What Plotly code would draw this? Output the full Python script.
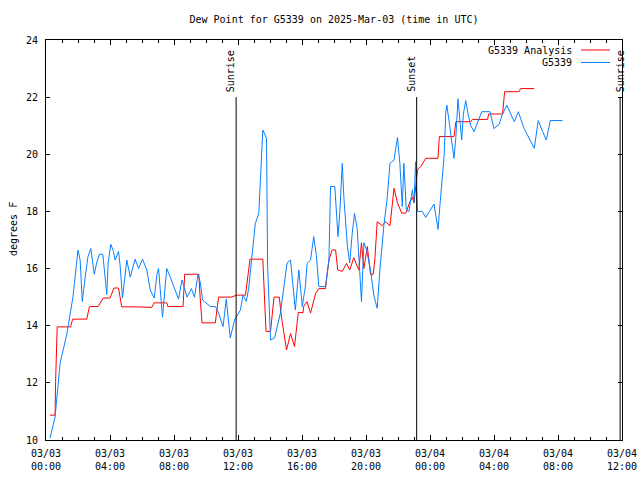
import plotly.graph_objects as go

# ---------------- data ----------------
obs_times = [
    "03 00:15", "03 00:34", "03 00:53", "03 01:18", "03 01:41", "03 01:55", "03 02:00", "03 02:08",
    "03 02:16", "03 02:27", "03 02:37", "03 02:48", "03 03:01", "03 03:10", "03 03:20", "03 03:33",
    "03 03:48", "03 03:53", "03 04:03", "03 04:13", "03 04:19", "03 04:32", "03 04:38", "03 04:47",
    "03 04:57", "03 05:03", "03 05:16", "03 05:34", "03 05:47", "03 06:02", "03 06:18", "03 06:31",
    "03 06:46", "03 06:56", "03 07:02", "03 07:11", "03 07:17", "03 07:27", "03 07:33", "03 07:46",
    "03 07:58", "03 08:17", "03 08:30", "03 08:49", "03 09:05", "03 09:17", "03 09:30", "03 09:39",
    "03 09:47", "03 10:16", "03 10:35", "03 10:47", "03 11:04", "03 11:16", "03 11:31", "03 11:47",
    "03 11:58", "03 12:09", "03 12:19", "03 12:31", "03 12:40", "03 12:53", "03 13:05", "03 13:18",
    "03 13:27", "03 13:33", "03 13:47", "03 13:51", "03 14:02", "03 14:17", "03 14:39", "03 14:54",
    "03 15:04", "03 15:17", "03 15:29", "03 15:35", "03 15:48", "03 15:54", "03 16:01", "03 16:13",
    "03 16:19", "03 16:32", "03 16:44", "03 16:54", "03 17:03", "03 17:28", "03 17:41", "03 17:47",
    "03 18:03", "03 18:15", "03 18:22", "03 18:31", "03 18:37", "03 18:50", "03 18:59", "03 19:08",
    "03 19:17", "03 19:27", "03 19:35", "03 19:43", "03 19:52", "03 20:02", "03 20:17", "03 20:30",
    "03 20:42", "03 20:52", "03 21:07", "03 21:20", "03 21:30", "03 21:45", "03 21:58", "03 22:07",
    "03 22:16", "03 22:22", "03 22:31", "03 22:41", "03 22:54", "03 23:00", "03 23:06", "03 23:13",
    "03 23:31", "03 23:44", "04 00:15", "04 00:25", "04 00:30", "04 00:38", "04 00:47", "04 00:53",
    "04 00:59", "04 01:03", "04 01:11", "04 01:18", "04 01:30", "04 01:37", "04 01:45", "04 01:53",
    "04 01:59", "04 02:05", "04 02:14", "04 02:23", "04 02:33", "04 02:45", "04 02:58", "04 03:14",
    "04 03:45", "04 04:00", "04 04:19", "04 04:32", "04 04:48", "04 05:16", "04 05:31", "04 05:53",
    "04 06:31", "04 06:46", "04 07:02", "04 07:16", "04 07:31", "04 08:17",
]
obs_values = [
    10.07, 10.8, 12.7, 13.7, 15.0, 16.3, 16.65, 16.3,
    14.85, 15.7, 16.4, 16.7, 15.8, 16.2, 16.5, 16.5,
    15.1, 16.2, 16.85, 16.6, 16.3, 16.6, 16.1, 14.97,
    15.95, 16.3, 15.7, 16.33, 16.0, 16.33, 15.95, 15.25,
    14.97, 15.8, 16.0, 15.0, 14.3, 15.4, 16.0, 15.7,
    15.4, 14.93, 15.6, 15.0, 15.3, 15.0, 15.8, 15.5,
    14.9, 14.67, 14.67, 14.45, 13.97, 14.93, 13.57, 14.2,
    14.37, 14.55, 15.07, 14.85, 15.3, 16.53, 17.58, 17.93,
    19.68, 20.85, 20.56, 16.13, 13.5, 13.57, 14.44, 15.5,
    16.2, 16.3, 15.0, 14.55, 15.95, 15.4, 14.67, 15.4,
    16.18, 16.3, 17.12, 16.45, 15.37, 15.37, 16.3, 18.87,
    18.87, 17.12, 18.0, 19.68, 18.5, 16.8, 16.2, 17.2,
    17.93, 17.4, 16.2, 14.84, 16.9, 16.66, 15.95, 15.03,
    14.61, 15.95, 17.5, 18.52, 19.68, 19.8, 20.59, 19.68,
    18.17, 19.68, 18.06, 18.0, 18.76, 18.3, 19.74, 18.0,
    18.0, 17.79, 18.26, 17.6, 17.37, 18.3, 19.5, 19.95,
    21.43, 21.72, 21.2, 20.7, 19.86, 20.6, 21.94, 21.1,
    20.5, 21.4, 21.88, 21.4, 21.0, 20.79, 21.1, 21.49,
    21.49, 20.9, 21.05, 21.4, 21.72, 21.14, 21.49, 20.9,
    20.21, 21.18, 20.8, 20.5, 21.18, 21.18,
]

ana_times = [
    "03 00:15", "03 00:34", "03 00:36", "03 00:38", "03 00:42", "03 01:32", "03 01:40", "03 02:33",
    "03 02:43", "03 03:15", "03 03:35", "03 04:00", "03 04:15", "03 04:32", "03 04:44", "03 05:41",
    "03 06:37", "03 06:45", "03 07:33", "03 07:37", "03 08:34", "03 08:40", "03 09:33", "03 09:38",
    "03 09:45", "03 10:35", "03 10:47", "03 11:34", "03 11:56", "03 12:28", "03 12:39", "03 12:45",
    "03 13:33", "03 13:37", "03 13:45", "03 14:02", "03 14:06", "03 14:15", "03 14:35", "03 14:43",
    "03 15:02", "03 15:17", "03 15:32", "03 15:42", "03 15:46", "03 16:04", "03 16:06", "03 16:19",
    "03 16:32", "03 16:51", "03 17:03", "03 17:28", "03 17:41", "03 17:53", "03 18:06", "03 18:14",
    "03 18:31", "03 18:47", "03 18:59", "03 19:14", "03 19:33", "03 19:43", "03 19:52", "03 20:05",
    "03 20:17", "03 20:27", "03 20:33", "03 20:42", "03 21:01", "03 21:13", "03 21:30", "03 21:45",
    "03 21:58", "03 22:14", "03 22:29", "03 22:45", "03 22:54", "03 23:00", "03 23:13", "03 23:25",
    "03 23:44", "04 00:30", "04 00:35", "04 01:30", "04 01:37", "04 02:33", "04 02:39", "04 03:36",
    "04 03:40", "04 04:32", "04 04:40", "04 05:34", "04 05:40", "04 06:31",
]
ana_values = [
    10.87, 10.87, 12.04, 12.8, 13.96, 13.96, 14.23, 14.23,
    14.67, 14.67, 14.97, 14.97, 15.32, 15.32, 14.66, 14.66,
    14.64, 14.8, 14.8, 14.67, 14.67, 15.8, 15.8, 15.0,
    14.1, 14.1, 15.0, 15.0, 15.07, 15.07, 15.8, 16.33,
    16.33, 15.6, 13.8, 13.8, 14.2, 15.0, 15.0, 14.3,
    13.15, 13.73, 13.27, 14.0, 14.46, 14.46, 14.67, 14.84,
    14.44, 15.13, 15.3, 15.3, 16.3, 16.65, 16.65, 15.95,
    15.9, 16.18, 15.95, 16.38, 15.95, 16.9, 16.0, 16.77,
    15.8, 15.8, 16.3, 17.64, 17.5, 17.64, 17.5, 18.81,
    18.3, 17.94, 17.94, 18.34, 18.5, 18.3, 19.45, 19.57,
    19.86, 19.86, 20.62, 20.62, 21.14, 21.14, 21.22, 21.22,
    21.41, 21.41, 22.19, 22.19, 22.3, 22.3,
]

event_times = ["03 11:53", "03 23:10", "04 11:53"]
event_labels = ["Sunrise", "Sunset", "Sunrise"]
event_top = 22

series_names = ["G5339 Analysis", "G5339"]
series_colors = ["#ff0000", "#0a80ff"]

title_text = "Dew Point for G5339 on 2025-Mar-03 (time in UTC)"
y_label = "degrees F"
x_start, x_end = "2025-03-03 00:00", "2025-03-04 12:00"
y_ticks = [10, 12, 14, 16, 18, 20, 22, 24]


def ts(s):
    return "2025-03-" + s


FONT = "DejaVu Sans Mono"

fig = go.Figure()
fig.add_trace(go.Scatter(x=[ts(t) for t in ana_times], y=ana_values, mode="lines",
                         line=dict(color=series_colors[0], width=1), name=series_names[0],
                         showlegend=False))
fig.add_trace(go.Scatter(x=[ts(t) for t in obs_times], y=obs_values, mode="lines",
                         line=dict(color=series_colors[1], width=1), name=series_names[1],
                         showlegend=False))

shapes = []
annotations = []
for t, lab, dx in zip(event_times, event_labels, [-6, -6, 0]):
    shapes.append(dict(type="line", xref="x", yref="y", x0=ts(t), x1=ts(t), y0=10, y1=event_top,
                       line=dict(color="black", width=1)))
    annotations.append(dict(x=ts(t), y=event_top, xref="x", yref="y", text=lab, textangle=-90,
                            showarrow=False, xanchor="center", yanchor="bottom", xshift=dx, yshift=3,
                            font=dict(family=FONT, size=10, color="black")))

# legend drawn at top-right (text right aligned, sample to the right)
for i, (nm, col) in enumerate(zip(series_names, series_colors)):
    yy = 1 - (10 + 12.5 * i) / 400
    annotations.append(dict(x=(574 - 46) / 576, y=yy, xref="paper", yref="paper", text=nm,
                            showarrow=False, xanchor="right", yanchor="middle",
                            font=dict(family=FONT, size=10, color="black")))
    shapes.append(dict(type="line", xref="paper", yref="paper", x0=(581 - 46) / 576,
                       x1=(610 - 46) / 576, y0=yy, y1=yy, line=dict(color=col, width=1)))

annotations.append(dict(x=-33 / 576, y=(440 - 229) / 400, xref="paper", yref="paper", text=y_label,
                        textangle=-90, showarrow=False, xanchor="center", yanchor="middle",
                        font=dict(family=FONT, size=10, color="black")))

fig.update_layout(
    width=640, height=480,
    margin=dict(l=46, r=18, t=40, b=40, autoexpand=False),
    paper_bgcolor="white", plot_bgcolor="white",
    title=dict(text=title_text, x=0.5, xref="paper", xanchor="center", y=1 - 19 / 480, yanchor="middle",
               font=dict(family=FONT, size=10, color="black")),
    font=dict(family=FONT, size=10, color="black"),
    shapes=shapes, annotations=annotations,
    showlegend=False,
)
fig.update_xaxes(
    range=[x_start, x_end], type="date", automargin=False,
    tick0=x_start, dtick=4 * 3600000, tickformat="%m/%d<br>%H:%M",
    ticks="inside", ticklen=5, tickcolor="black", tickwidth=1, ticklabelstandoff=4,
    minor=dict(dtick=3600000, ticks="inside", ticklen=3, tickcolor="black", tickwidth=1, showgrid=False),
    showline=True, linecolor="black", linewidth=1, mirror="ticks",
    showgrid=False, zeroline=False,
    tickfont=dict(family=FONT, size=10, color="black"),
)
fig.update_yaxes(
    range=[10, 24], tickvals=y_ticks, automargin=False,
    ticks="inside", ticklen=4, tickcolor="black", tickwidth=1, ticklabelstandoff=5,
    showline=True, linecolor="black", linewidth=1, mirror="ticks",
    showgrid=False, zeroline=False,
    tickfont=dict(family=FONT, size=10, color="black"),
)

fig.write_html("out.html", config={"displayModeBar": False},
               post_script="document.body.style.margin='0';document.body.style.overflow='hidden';")
